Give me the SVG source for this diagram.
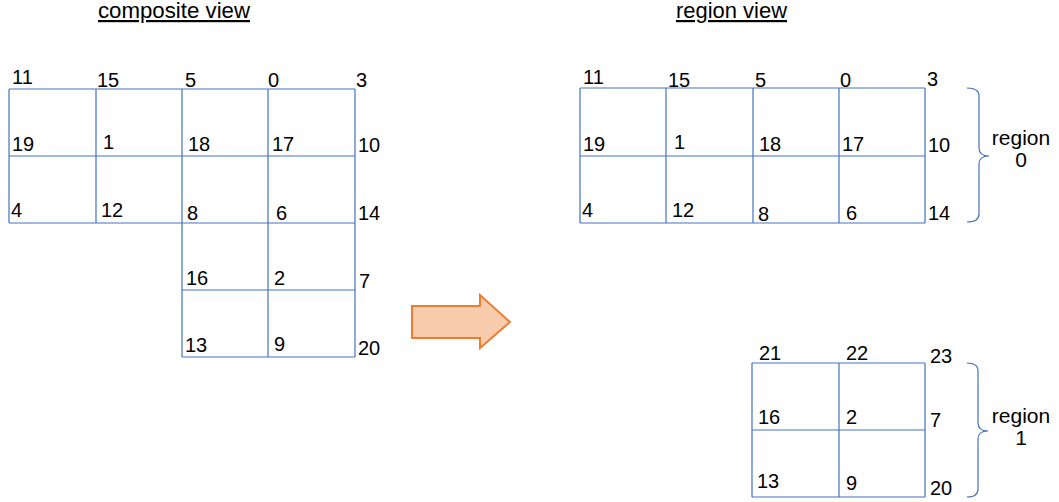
<svg xmlns="http://www.w3.org/2000/svg" width="1059" height="502" viewBox="0 0 1059 502">
<style>
.g{stroke:#4472C4;stroke-width:1.2;fill:none}
.n{font-family:"Liberation Sans",Arial,sans-serif;font-size:20px;fill:#000}
.t{font-family:"Liberation Sans",Arial,sans-serif;font-size:22px;fill:#000;text-decoration:underline}
.r{font-family:"Liberation Sans",Arial,sans-serif;font-size:21px;fill:#000;text-anchor:middle}
.b{stroke:#4472C4;stroke-width:1.2;fill:none}
</style>
<rect width="1059" height="502" fill="#fff"/>
<g id="title-composite"><text class="t" x="98" y="18" textLength="152" lengthAdjust="spacingAndGlyphs">composite view</text></g>
<g id="title-region"><text class="t" x="676" y="18" textLength="111" lengthAdjust="spacingAndGlyphs">region view</text></g>

<g id="composite-grid">
<path class="g" d="M9,89H355M9,156H355M9,223H355M182,290H355M182,357H355M9,89V223M96,89V223M182,89V357M268,89V357M355,89V357"/>
<text class="n" x="12" y="84">11</text>
<text class="n" x="97" y="87">15</text>
<text class="n" x="185" y="87">5</text>
<text class="n" x="268" y="87">0</text>
<text class="n" x="356" y="87">3</text>
<text class="n" x="12" y="151">19</text>
<text class="n" x="103" y="149">1</text>
<text class="n" x="188" y="151">18</text>
<text class="n" x="272" y="151">17</text>
<text class="n" x="358" y="152">10</text>
<text class="n" x="11" y="217">4</text>
<text class="n" x="101" y="217">12</text>
<text class="n" x="187" y="220">8</text>
<text class="n" x="276" y="220">6</text>
<text class="n" x="358" y="220">14</text>
<text class="n" x="186" y="285">16</text>
<text class="n" x="274" y="285">2</text>
<text class="n" x="359" y="288">7</text>
<text class="n" x="185" y="352">13</text>
<text class="n" x="274" y="351">9</text>
<text class="n" x="358" y="355">20</text>
</g>

<g id="arrow">
<path d="M412,306H480V295L510,322L480,348V338H412Z" fill="#F8CBAD" stroke="#ED7D31" stroke-width="2" stroke-linejoin="miter"/>
</g>

<g id="region0-grid">
<path class="g" d="M580,88H925M580,156H925M580,223H925M580,88V223M666,88V223M753,88V223M839,88V223M925,88V223"/>
<text class="n" x="583" y="84">11</text>
<text class="n" x="668" y="87">15</text>
<text class="n" x="755" y="87">5</text>
<text class="n" x="840" y="87">0</text>
<text class="n" x="927" y="86">3</text>
<text class="n" x="583" y="151">19</text>
<text class="n" x="674" y="149">1</text>
<text class="n" x="759" y="151">18</text>
<text class="n" x="842" y="151">17</text>
<text class="n" x="928" y="152">10</text>
<text class="n" x="582" y="217">4</text>
<text class="n" x="672" y="217">12</text>
<text class="n" x="758" y="221">8</text>
<text class="n" x="846" y="220">6</text>
<text class="n" x="928" y="220">14</text>
</g>

<g id="region0-label">
<path class="b" d="M967,88Q979,88 979,96V148Q979,156 989,156Q979,156 979,164V214Q979,222 967,222"/>
<text class="r" x="1021" y="145">region</text>
<text class="r" x="1021" y="167">0</text>
</g>

<g id="region1-grid">
<path class="g" d="M752,363H925M752,430H925M752,497H925M752,363V497M839,363V497M925,363V497"/>
<text class="n" x="759" y="360">21</text>
<text class="n" x="846" y="360">22</text>
<text class="n" x="930" y="363">23</text>
<text class="n" x="758" y="424">16</text>
<text class="n" x="846" y="424">2</text>
<text class="n" x="930" y="427">7</text>
<text class="n" x="757" y="488">13</text>
<text class="n" x="846" y="490">9</text>
<text class="n" x="930" y="495">20</text>
</g>

<g id="region1-label">
<path class="b" d="M967,363Q978,363 978,371V423Q978,431 988,431Q978,431 978,439V489Q978,497 967,497"/>
<text class="r" x="1021" y="423">region</text>
<text class="r" x="1021" y="445">1</text>
</g>
</svg>
